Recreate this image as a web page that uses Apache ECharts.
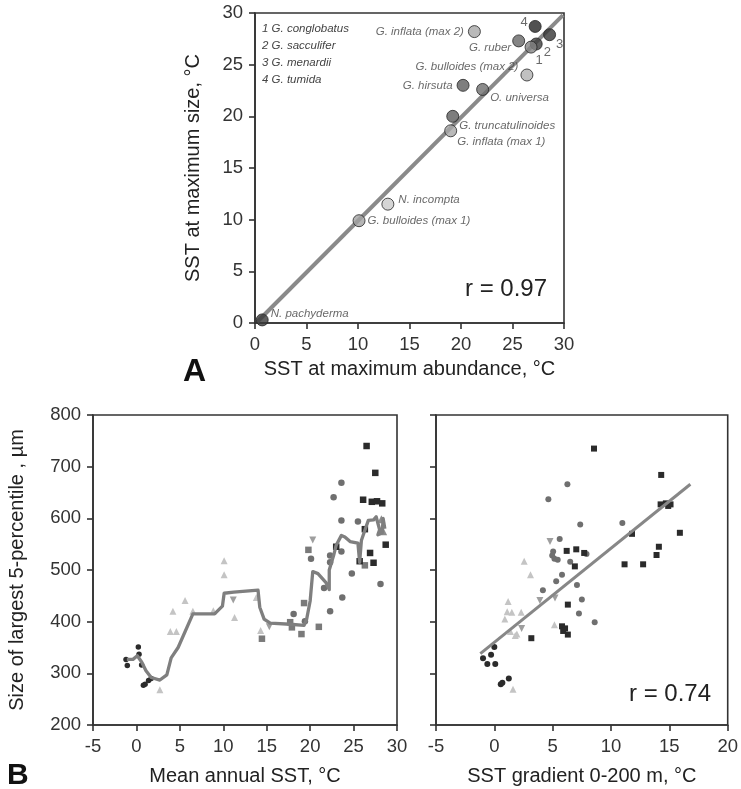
<!DOCTYPE html>
<html><head><meta charset="utf-8">
<script src="https://cdn.jsdelivr.net/npm/echarts@6/dist/echarts.min.js"></script>
<style>html,body{margin:0;padding:0;background:#fff}#c{width:741px;height:789px}</style>
</head><body><div id="c"></div>
<script>
// ---------- Panel A data ----------
const labelsA = ['N. pachyderma','G. bulloides (max 1)','N. incompta','G. inflata (max 1)','G. truncatulinoides','G. hirsuta','O. universa','G. bulloides (max 2)','G. inflata (max 2)','G. ruber','2','1','3','4'];
const abundA  = [0.7, 10.1, 12.9, 19.0, 19.2, 20.2, 22.1, 26.4, 21.3, 25.6, 27.3, 26.8, 28.6, 27.2];
const sizeA   = [0.3, 9.9, 11.5, 18.6, 20.0, 23.0, 22.6, 24.0, 28.2, 27.3, 27.0, 26.7, 27.9, 28.7];
const legendA = ['1 G. conglobatus','2 G. sacculifer','3 G. menardii','4 G. tumida'];
const fitAx = [0.2, 29.9];
const fitAy = [0.1, 29.8];
const axisTicksA = {min:0, max:30, interval:5};

// ---------- Panel B left (mean annual SST) ----------
const bLdarkCircleX = [-1.2, -1.05, 0.22, 0.3, 0.6, 0.8, 1.0, 1.4, 1.7];
const bLdarkCircleY = [327, 315, 351, 337, 316, 277, 279, 286, 290];
const bLlightTriX = [2.7, 3.9, 4.6, 4.2, 5.6, 6.5, 8.85, 10.1, 10.1, 11.3, 13.8, 14.3];
const bLlightTriY = [268, 381, 381, 420, 441, 420, 421, 518, 491, 408, 447, 383];
const bLdownTriX = [11.15, 15.3, 20.3];
const bLdownTriY = [442, 390, 558];
const bLmidTriX = [28.2, 28.4];
const bLmidTriY = [598, 575];
const bLmidCircleX = [18.1, 19.4, 20.1, 22.3, 22.3, 23.6, 23.6, 22.7, 23.6, 25.5, 24.8, 28.1, 21.6, 23.7, 22.3];
const bLmidCircleY = [415, 401, 522, 528, 515, 536, 669, 641, 596, 594, 493, 473, 465, 447, 420];
const bLmidSquareX = [14.45, 17.7, 17.9, 19.0, 19.3, 19.8, 21.0, 26.3];
const bLmidSquareY = [367, 399, 389, 376, 436, 539, 390, 509];
const bLdarkSquareX = [26.5, 27.5, 26.1, 27.1, 27.7, 28.3, 26.3, 23.0, 28.7, 25.7, 27.3, 26.9];
const bLdarkSquareY = [740, 688, 636, 632, 633, 629, 579, 545, 549, 517, 514, 533];
const bLlineX = [-1.1,-0.4,0.1,0.6,1.1,1.7,2.7,3.5,4.0,4.8,6.5,9.0,9.9,10.1,11.2,14.0,14.2,14.7,15.4,17.7,19.3,19.6,20.0,20.3,20.9,21.8,22.2,22.2,22.7,23.0,23.6,24.0,24.6,25.5,25.7,25.9,26.3,26.7,27.3,27.6,28.0,27.8,28.3,28.4,28.6];
const bLlineY = [327,327,334,322,305,292,287,297,330,350,415,415,430,455,457,461,428,405,397,395,393,405,440,497,493,476,462,500,528,548,567,564,555,552,515,557,577,596,597,603,578,568,572,600,580];

// ---------- Panel B right (SST gradient 0-200 m) ----------
const bRdarkCircleX = [0, -0.28, -0.97, -0.6, 0.08, 0.55, 0.69, 1.24];
const bRdarkCircleY = [351, 336, 329, 318, 318, 279, 282, 290];
const bRlightTriX = [1.6, 1.18, 1.1, 1.5, 2.3, 0.9, 1.38, 1.79, 1.93, 2.56, 3.1, 5.15];
const bRlightTriY = [269, 439, 419, 418, 418, 405, 381, 373, 376, 517, 491, 394];
const bRdownTriX = [4.77, 3.9, 5.2, 2.34];
const bRdownTriY = [555, 441, 446, 387];
const bRmidCircleX = [6.26, 4.63, 7.36, 10.97, 5.6, 5.04, 4.96, 5.15, 5.43, 7.9, 6.5, 5.8, 5.3, 4.16, 7.08, 7.5, 7.25, 8.6];
const bRmidCircleY = [666, 637, 588, 591, 560, 536, 528, 522, 520, 531, 516, 491, 478, 461, 471, 443, 416, 399];
const bRdarkSquareX = [6.2, 7.02, 7.7, 6.9, 6.3, 5.8, 6.06, 5.9, 6.3, 3.17, 8.54, 14.3, 14.25, 14.7, 15.1, 14.9, 15.9, 11.8, 14.1, 13.9, 11.16, 12.75];
const bRdarkSquareY = [537, 540, 533, 507, 433, 391, 387, 382, 375, 368, 735, 684, 627, 629, 627, 624, 572, 570, 545, 529, 511, 511];
const fitBx = [-1.2, 16.8];
const fitBy = [338, 666];

// ---------- styles ----------
const FONT = 'Liberation Sans, Arial, sans-serif';
const shadeA = {
  'N. pachyderma':'#3a3a3a','G. bulloides (max 1)':'#a2a2a2','N. incompta':'#cacaca','G. inflata (max 1)':'#a8a8a8',
  'G. truncatulinoides':'#5e5e5e','G. hirsuta':'#5e5e5e','O. universa':'#6e6e6e','G. bulloides (max 2)':'#b2b2b2',
  'G. inflata (max 2)':'#a8a8a8','G. ruber':'#676767','1':'#858585','2':'#3c3c3c','3':'#363636','4':'#262626'
};
// [position, dy, distance]
const placeA = {
  'N. pachyderma':['right',-6,2],'G. bulloides (max 1)':['right',0,2],'N. incompta':['right',-4,4],
  'G. inflata (max 1)':['right',11,0],'G. truncatulinoides':['right',9,0],'G. hirsuta':['left',0,4],
  'O. universa':['right',8,1],'G. bulloides (max 2)':['left',-8,2],'G. inflata (max 2)':['left',0,4],
  'G. ruber':['left',7,1],'1':['right',13,-2],'2':['right',8,1],'3':['right',10,0],'4':['left',-4,1]
};
const C_DARK='#2b2b2b', C_MID='#6f6f6f', C_MIDSQ='#7a7a7a', C_DOWN='#9e9e9e', C_LIGHT='#c4c4c4', C_MIDTRI='#8c8c8c';

function zip(xs, ys){ return xs.map((x,i)=>[x, ys[i]]); }

function axis(gridIndex, range, extra){
  return Object.assign({
    type:'value', gridIndex, min:range.min, max:range.max, interval:range.interval,
    axisLine:{show:true, onZero:false, lineStyle:{color:'#333', width:1.6}},
    axisTick:{show:true, inside:false, length:6, lineStyle:{color:'#333', width:1.6}},
    splitLine:{show:false},
    axisLabel:{color:'#333', fontSize:18.5, fontFamily:FONT, margin:12},
    nameTextStyle:{color:'#222', fontSize:20, fontFamily:FONT},
    nameLocation:'middle'
  }, extra);
}

const dataA = labelsA.map((n,i)=>{
  const p = placeA[n];
  const isNum = /^\d$/.test(n);
  return {
    name:n, value:[abundA[i], sizeA[i]],
    itemStyle:{color:shadeA[n]},
    label:{show:true, formatter:n, position:p[0], distance:p[2], offset:[0,p[1]],
      fontStyle:isNum?'normal':'italic', fontSize:isNum?13:11.5, color:'#444', fontFamily:FONT}
  };
});

function sc(name, xi, yi, xs, ys, symbol, size, color, extra){
  return Object.assign({
    type:'scatter', name, xAxisIndex:xi, yAxisIndex:yi, data:zip(xs,ys),
    symbol, symbolSize:size, itemStyle:{color, opacity:1}, z:3, silent:true
  }, extra||{});
}

const option = {
  animation:false,
  backgroundColor:'#fff',
  grid:[
    {left:255, top:13, width:309, height:310, show:true, borderColor:'#333', borderWidth:1.6, containLabel:false},
    {left:93, top:415, width:304, height:310, show:true, borderColor:'#333', borderWidth:1.6},
    {left:436, top:415, width:302, height:310, show:true, borderColor:'#333', borderWidth:1.6}
  ],
  xAxis:[
    axis(0, axisTicksA, {name:'SST at maximum abundance, °C', nameGap:36}),
    axis(1, {min:-5,max:30,interval:5}, {name:'Mean annual SST, °C', nameGap:41}),
    axis(2, {min:-5,max:20,interval:5}, {name:'SST gradient 0-200 m, °C', nameGap:41})
  ],
  yAxis:[
    axis(0, axisTicksA, {name:'SST at maximum size, °C', nameGap:52}),
    axis(1, {min:200,max:800,interval:100}, {name:'Size of largest 5-percentile , µm', nameGap:66}),
    axis(2, {min:200,max:800,interval:100}, {axisLabel:{show:false}})
  ],
  series:[
    {type:'line', xAxisIndex:0, yAxisIndex:0, data:zip(fitAx, fitAy), symbol:'none',
      lineStyle:{color:'#8a8a8a', width:4}, z:2, silent:true},
    {type:'scatter', xAxisIndex:0, yAxisIndex:0, data:dataA, symbol:'circle', symbolSize:12,
      itemStyle:{borderColor:'#262626', borderWidth:1}, z:3, silent:true},

    sc('lt', 1,1, bLlightTriX, bLlightTriY, 'triangle', 7, C_LIGHT),
    sc('dt', 1,1, bLdownTriX, bLdownTriY, 'triangle', 7, C_DOWN, {symbolRotate:180}),
    sc('mt', 1,1, bLmidTriX, bLmidTriY, 'triangle', 8, C_MIDTRI),
    {type:'line', xAxisIndex:1, yAxisIndex:1, data:zip(bLlineX, bLlineY), symbol:'none',
      lineStyle:{color:'#7f7f7f', width:3.3, join:'round'}, z:4, silent:true},
    sc('dc', 1,1, bLdarkCircleX, bLdarkCircleY, 'circle', 5.5, C_DARK),
    sc('mc', 1,1, bLmidCircleX, bLmidCircleY, 'circle', 6.5, C_MID),
    sc('ms', 1,1, bLmidSquareX, bLmidSquareY, 'rect', 6.5, C_MIDSQ),
    sc('ds', 1,1, bLdarkSquareX, bLdarkSquareY, 'rect', 6.5, C_DARK),

    sc('lt2', 2,2, bRlightTriX, bRlightTriY, 'triangle', 7, C_LIGHT),
    sc('dt2', 2,2, bRdownTriX, bRdownTriY, 'triangle', 7, C_DOWN, {symbolRotate:180}),
    sc('dc2', 2,2, bRdarkCircleX, bRdarkCircleY, 'circle', 6, C_DARK),
    sc('mc2', 2,2, bRmidCircleX, bRmidCircleY, 'circle', 6, C_MID),
    sc('ds2', 2,2, bRdarkSquareX, bRdarkSquareY, 'rect', 6, C_DARK),
    {type:'line', xAxisIndex:2, yAxisIndex:2, data:zip(fitBx, fitBy), symbol:'none',
      lineStyle:{color:'#878787', width:3}, z:5, silent:true}
  ],
  graphic:[
    {type:'text', left:262, top:20, style:{text:legendA.join('\n'), fontSize:11.5, fontStyle:'italic', lineHeight:17, fill:'#444', fontFamily:FONT}},
    {type:'text', left:465, top:277, style:{text:'r = 0.97', fontSize:24, fill:'#222', fontFamily:FONT}},
    {type:'text', left:629, top:682, style:{text:'r = 0.74', fontSize:24, fill:'#222', fontFamily:FONT}},
    {type:'text', left:183, top:356, style:{text:'A', fontSize:32, fontWeight:'bold', fill:'#111', fontFamily:FONT}},
    {type:'text', left:7, top:761, style:{text:'B', fontSize:30, fontWeight:'bold', fill:'#111', fontFamily:FONT}}
  ]
};
const chart = echarts.init(document.getElementById('c'));
chart.setOption(option);
</script></body></html>
